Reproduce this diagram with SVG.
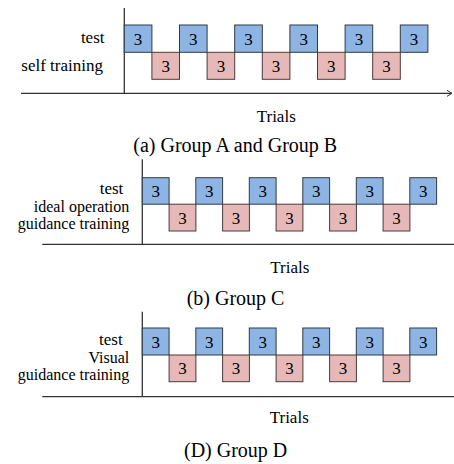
<svg xmlns="http://www.w3.org/2000/svg" width="454" height="464" viewBox="0 0 454 464" font-family="'Liberation Serif', 'Times New Roman', serif">
<style>
text{font-family:'Liberation Serif','Times New Roman',serif;fill:#000}
.lbl{font-size:17px;text-anchor:end}
.lbl2{font-size:16px;text-anchor:end}
.num{font-size:17px;text-anchor:middle}
.ttl{font-size:20px}
.tr{font-size:17px}
.b{fill:#8eb4e3;stroke:#2f3a48;stroke-width:1}
.p{fill:#e6b9b8;stroke:#4a3a3a;stroke-width:1}
.ax{stroke:#333;stroke-width:1.3;fill:none}
</style>
<defs>
<marker id="arr" markerWidth="8" markerHeight="8" refX="6" refY="4" orient="auto" markerUnits="userSpaceOnUse">
<path d="M1,1 L6,4 L1,7" fill="none" stroke="#333" stroke-width="1"/>
</marker>
</defs>
<g id="connectors">
<line class="ax" x1="124.3" y1="8" x2="124.3" y2="93.3"/>
<line class="ax" x1="21" y1="93.3" x2="452" y2="93.3" marker-end="url(#arr)"/>
<line class="ax" x1="142.3" y1="159.3" x2="142.3" y2="244.3"/>
<line class="ax" x1="42.3" y1="244.3" x2="454" y2="244.3"/>
<line class="ax" x1="142.3" y1="311.7" x2="142.3" y2="396.7"/>
<line class="ax" x1="42.3" y1="396.7" x2="454" y2="396.7"/>
</g>
<g id="panelA">
<text class="lbl" x="104.5" y="43">test</text>
<text class="lbl" x="103" y="71">self training</text>
<g id="A-test">
<rect class="b" x="124.3" y="25" width="27.6" height="27.3"/><text class="num" x="138.1" y="44.5">3</text>
<rect class="b" x="179.5" y="25" width="27.6" height="27.3"/><text class="num" x="193.3" y="44.5">3</text>
<rect class="b" x="234.7" y="25" width="27.6" height="27.3"/><text class="num" x="248.5" y="44.5">3</text>
<rect class="b" x="289.9" y="25" width="27.6" height="27.3"/><text class="num" x="303.7" y="44.5">3</text>
<rect class="b" x="345.1" y="25" width="27.6" height="27.3"/><text class="num" x="358.9" y="44.5">3</text>
<rect class="b" x="400.3" y="25" width="27.6" height="27.3"/><text class="num" x="414.1" y="44.5">3</text>
</g>
<g id="A-train">
<rect class="p" x="151.9" y="52.3" width="27.6" height="27"/><text class="num" x="165.7" y="71.5">3</text>
<rect class="p" x="207.1" y="52.3" width="27.6" height="27"/><text class="num" x="220.9" y="71.5">3</text>
<rect class="p" x="262.3" y="52.3" width="27.6" height="27"/><text class="num" x="276.1" y="71.5">3</text>
<rect class="p" x="317.5" y="52.3" width="27.6" height="27"/><text class="num" x="331.3" y="71.5">3</text>
<rect class="p" x="372.7" y="52.3" width="27.6" height="27"/><text class="num" x="386.5" y="71.5">3</text>
</g>
<text class="tr" x="256.7" y="121.5">Trials</text>
<text class="ttl" x="133.3" y="151.5">(a) Group A and Group B</text>
</g>
<g id="panelB">
<text class="lbl" x="123.3" y="193.5">test</text>
<text class="lbl2" x="129.3" y="211.5">ideal operation</text>
<text class="lbl2" x="129.3" y="228.5">guidance training</text>
<g id="B-test">
<rect class="b" x="142.3" y="177.7" width="26.8" height="26.5"/><text class="num" x="155.7" y="197">3</text>
<rect class="b" x="195.8" y="177.7" width="26.8" height="26.5"/><text class="num" x="209.2" y="197">3</text>
<rect class="b" x="249.3" y="177.7" width="26.8" height="26.5"/><text class="num" x="262.7" y="197">3</text>
<rect class="b" x="302.8" y="177.7" width="26.8" height="26.5"/><text class="num" x="316.2" y="197">3</text>
<rect class="b" x="356.3" y="177.7" width="26.8" height="26.5"/><text class="num" x="369.7" y="197">3</text>
<rect class="b" x="409.8" y="177.7" width="26.8" height="26.5"/><text class="num" x="423.2" y="197">3</text>
</g>
<g id="B-train">
<rect class="p" x="169.1" y="204.2" width="26.8" height="26.8"/><text class="num" x="182.5" y="223.5">3</text>
<rect class="p" x="222.6" y="204.2" width="26.8" height="26.8"/><text class="num" x="236" y="223.5">3</text>
<rect class="p" x="276.1" y="204.2" width="26.8" height="26.8"/><text class="num" x="289.5" y="223.5">3</text>
<rect class="p" x="329.6" y="204.2" width="26.8" height="26.8"/><text class="num" x="343" y="223.5">3</text>
<rect class="p" x="383.1" y="204.2" width="26.8" height="26.8"/><text class="num" x="396.5" y="223.5">3</text>
</g>
<text class="tr" x="270.3" y="273.3">Trials</text>
<text class="ttl" x="186.7" y="305">(b) Group C</text>
</g>
<g id="panelD">
<text class="lbl" x="122.7" y="344.5">test</text>
<text class="lbl2" x="129.3" y="363">Visual</text>
<text class="lbl2" x="129.3" y="380">guidance training</text>
<g id="D-test">
<rect class="b" x="142.3" y="328" width="26.8" height="27"/><text class="num" x="155.7" y="347.5">3</text>
<rect class="b" x="195.8" y="328" width="26.8" height="27"/><text class="num" x="209.2" y="347.5">3</text>
<rect class="b" x="249.3" y="328" width="26.8" height="27"/><text class="num" x="262.7" y="347.5">3</text>
<rect class="b" x="302.8" y="328" width="26.8" height="27"/><text class="num" x="316.2" y="347.5">3</text>
<rect class="b" x="356.3" y="328" width="26.8" height="27"/><text class="num" x="369.7" y="347.5">3</text>
<rect class="b" x="409.8" y="328" width="26.8" height="27"/><text class="num" x="423.2" y="347.5">3</text>
</g>
<g id="D-train">
<rect class="p" x="169.1" y="355" width="26.8" height="26.7"/><text class="num" x="182.5" y="374.3">3</text>
<rect class="p" x="222.6" y="355" width="26.8" height="26.7"/><text class="num" x="236" y="374.3">3</text>
<rect class="p" x="276.1" y="355" width="26.8" height="26.7"/><text class="num" x="289.5" y="374.3">3</text>
<rect class="p" x="329.6" y="355" width="26.8" height="26.7"/><text class="num" x="343" y="374.3">3</text>
<rect class="p" x="383.1" y="355" width="26.8" height="26.7"/><text class="num" x="396.5" y="374.3">3</text>
</g>
<text class="tr" x="269.7" y="423.3">Trials</text>
<text class="ttl" x="184" y="457">(D) Group D</text>
</g>
</svg>
